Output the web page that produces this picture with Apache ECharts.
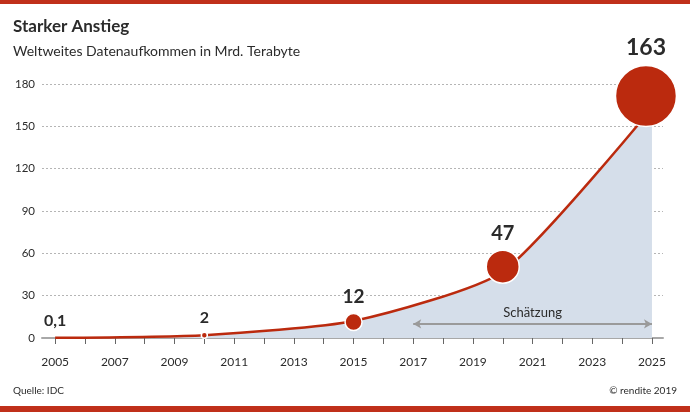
<!DOCTYPE html>
<html>
<head>
<meta charset="utf-8">
<script src="https://cdn.jsdelivr.net/npm/echarts@6/dist/echarts.min.js"></script>
<style>
  html, body { margin: 0; padding: 0; background: #fff; }
  #chart { width: 690px; height: 412px; }
</style>
</head>
<body>
<div id="chart"></div>
<script>
// Daten (Mrd. Terabyte)
const years = [2005, 2010, 2015, 2020, 2025];
const values = [0.1, 2, 12, 47, 163];
const valueLabels = ['0,1', '2', '12', '47', '163'];
const xTickYears = [2005, 2006, 2007, 2008, 2009, 2010, 2011, 2012, 2013, 2014, 2015,
  2016, 2017, 2018, 2019, 2020, 2021, 2022, 2023, 2024, 2025];
const xLabelYears = [2005, 2007, 2009, 2011, 2013, 2015, 2017, 2019, 2021, 2023, 2025];
const estimateRange = [2017, 2025];
const estimateLevel = 10;

// Darstellung
const bubbleSizes = [0, 6, 17, 33, 61];
const bubbleOffsets = [[0, 0], [0, 0], [0, 1], [0, -5], [-6, -12]];
const labelSizes = [16, 16, 19, 20, 23];
const red = '#bb2a0e';

var dom = document.getElementById('chart');
var myChart = echarts.init(dom, null, { renderer: 'canvas' });

const bubbleData = years.map((y, i) => ({
  value: [y, values[i]],
  symbolSize: bubbleSizes[i],
  symbolOffset: bubbleOffsets[i],
  label: {
    formatter: valueLabels[i],
    fontSize: labelSizes[i],
    distance: i === 0 ? 9 : 6
  }
}));

var option = {
  animation: false,
  backgroundColor: '#fff',
  textStyle: { fontFamily: 'Lato, "Noto Sans", sans-serif' },
  graphic: [
    { type: 'rect', left: 0, top: 0, shape: { width: 690, height: 4 }, style: { fill: '#c0301a' } },
    { type: 'rect', left: 0, top: 406, shape: { width: 690, height: 6 }, style: { fill: '#c0301a' } },
    {
      type: 'text', left: 13, top: 18,
      style: { text: 'Starker Anstieg', font: 'bold 17px Lato, "Noto Sans", sans-serif', fill: '#2b2b2b' }
    },
    {
      type: 'text', left: 13, top: 44,
      style: { text: 'Weltweites Datenaufkommen in Mrd. Terabyte', font: '14px Lato, "Noto Sans", sans-serif', fill: '#2b2b2b' }
    },
    {
      type: 'text', left: 13, top: 386,
      style: { text: 'Quelle: IDC', font: '10px Lato, "Noto Sans", sans-serif', fill: '#2b2b2b' }
    },
    {
      type: 'text', right: 13, top: 386,
      style: { text: '© rendite 2019', font: '10px Lato, "Noto Sans", sans-serif', fill: '#2b2b2b' }
    }
  ],
  grid: { left: 42, right: 27, top: 84, bottom: 74 },
  xAxis: {
    type: 'value',
    min: 2004.56,
    max: 2025.37,
    splitLine: { show: false },
    axisLine: { show: true, lineStyle: { color: '#a8a8a8', width: 2 } },
    axisTick: {
      show: true,
      customValues: xTickYears,
      length: 6,
      lineStyle: { color: '#666', width: 1 }
    },
    axisLabel: {
      customValues: xLabelYears,
      formatter: v => String(v),
      color: '#2b2b2b',
      fontSize: 12,
      margin: 18
    }
  },
  yAxis: {
    type: 'value',
    min: 0,
    max: 180,
    interval: 30,
    axisLine: { show: false },
    axisTick: { show: false },
    axisLabel: { color: '#2b2b2b', fontSize: 11.5, margin: 7 },
    splitLine: { lineStyle: { color: '#b5b5b5', type: [2, 2], width: 1 } }
  },
  series: [
    {
      type: 'line',
      data: years.map((y, i) => [y, values[i]]),
      smooth: 0.2,
      symbol: 'none',
      clip: false,
      lineStyle: { color: red, width: 2.5 },
      areaStyle: { color: '#d5deea', opacity: 1 },
      markLine: {
        silent: true,
        symbol: ['arrow', 'arrow'],
        symbolSize: [7, 8],
        lineStyle: { color: '#9a9a9a', width: 2, type: 'solid' },
        label: {
          show: true,
          position: 'middle',
          formatter: 'Schätzung',
          color: '#2b2b2b',
          fontSize: 13,
          backgroundColor: '#d5deea',
          padding: [0, 5]
        },
        data: [[
          { coord: [estimateRange[0], estimateLevel] },
          { coord: [estimateRange[1], estimateLevel] }
        ]]
      },
      z: 2
    },
    {
      type: 'scatter',
      data: bubbleData,
      clip: false,
      itemStyle: { color: red, borderColor: '#fff', borderWidth: 1.5, opacity: 1 },
      label: {
        show: true,
        position: 'top',
        color: '#2b2b2b',
        fontWeight: 'bold',
        textBorderColor: '#fff',
        textBorderWidth: 3
      },
      z: 3
    }
  ]
};

myChart.setOption(option);
window.addEventListener('resize', myChart.resize);
</script>
</body>
</html>
